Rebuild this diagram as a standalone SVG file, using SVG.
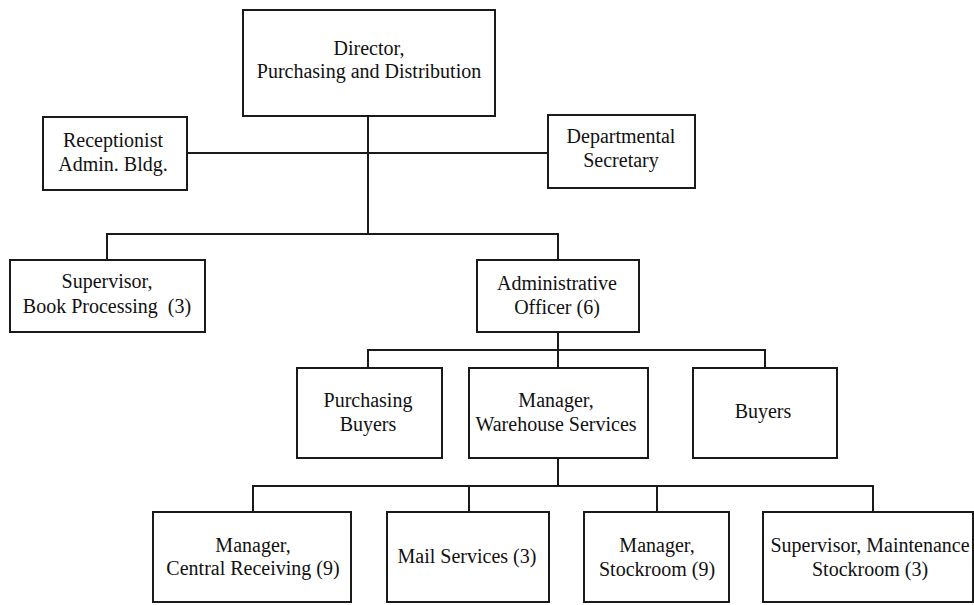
<svg xmlns="http://www.w3.org/2000/svg" width="974" height="605" viewBox="0 0 974 605">
  <style>
    .box { fill: #ffffff; stroke: #1a1a1a; stroke-width: 2; }
    .wire { fill: none; stroke: #1a1a1a; stroke-width: 2; }
    text { font-family: "Liberation Serif", "Times New Roman", serif; font-size: 20px; fill: #111111; text-anchor: middle; }
  </style>
  <rect width="974" height="605" fill="#ffffff"/>

  <!-- connectors -->
  <g id="connectors">
    <path class="wire" d="M368 116 V234"/>
    <path class="wire" d="M187 153 H548"/>
    <path class="wire" d="M107 260 V234 H558 V260"/>
    <path class="wire" d="M558 332 V368"/>
    <path class="wire" d="M368 368 V350 H765 V368"/>
    <path class="wire" d="M558 458 V486"/>
    <path class="wire" d="M253 512 V486 H873 V512"/>
    <path class="wire" d="M469 486 V512"/>
    <path class="wire" d="M657 486 V512"/>
  </g>

  <g id="director">
    <rect class="box" x="243" y="10" width="252" height="106"/>
    <text x="369" y="55">Director,</text>
    <text x="369" y="78">Purchasing and Distribution</text>
  </g>

  <g id="receptionist">
    <rect class="box" x="43" y="117" width="144" height="73"/>
    <text x="113" y="147">Receptionist</text>
    <text x="113" y="171">Admin. Bldg.</text>
  </g>

  <g id="secretary">
    <rect class="box" x="548" y="115" width="147" height="73"/>
    <text x="621" y="143">Departmental</text>
    <text x="621" y="167">Secretary</text>
  </g>

  <g id="book-processing">
    <rect class="box" x="10" y="260" width="195" height="72"/>
    <text x="107" y="288">Supervisor,</text>
    <text x="107" y="313" xml:space="preserve">Book Processing  (3)</text>
  </g>

  <g id="admin-officer">
    <rect class="box" x="477" y="260" width="162" height="72"/>
    <text x="557" y="290">Administrative</text>
    <text x="557" y="314">Officer (6)</text>
  </g>

  <g id="purchasing-buyers">
    <rect class="box" x="297" y="368" width="145" height="90"/>
    <text x="368" y="407">Purchasing</text>
    <text x="368" y="431">Buyers</text>
  </g>

  <g id="warehouse">
    <rect class="box" x="469" y="368" width="179" height="90"/>
    <text x="556" y="407">Manager,</text>
    <text x="556" y="431">Warehouse Services</text>
  </g>

  <g id="buyers">
    <rect class="box" x="693" y="368" width="144" height="90"/>
    <text x="763" y="418">Buyers</text>
  </g>

  <g id="central-receiving">
    <rect class="box" x="153" y="512" width="198" height="90"/>
    <text x="253" y="552">Manager,</text>
    <text x="253" y="575">Central Receiving (9)</text>
  </g>

  <g id="mail-services">
    <rect class="box" x="387" y="512" width="162" height="90"/>
    <text x="467" y="563">Mail Services (3)</text>
  </g>

  <g id="stockroom">
    <rect class="box" x="584" y="512" width="145" height="90"/>
    <text x="657" y="552">Manager,</text>
    <text x="657" y="576">Stockroom (9)</text>
  </g>

  <g id="maintenance">
    <rect class="box" x="763" y="512" width="210" height="90"/>
    <text x="870" y="552">Supervisor, Maintenance</text>
    <text x="870" y="576">Stockroom (3)</text>
  </g>
</svg>
